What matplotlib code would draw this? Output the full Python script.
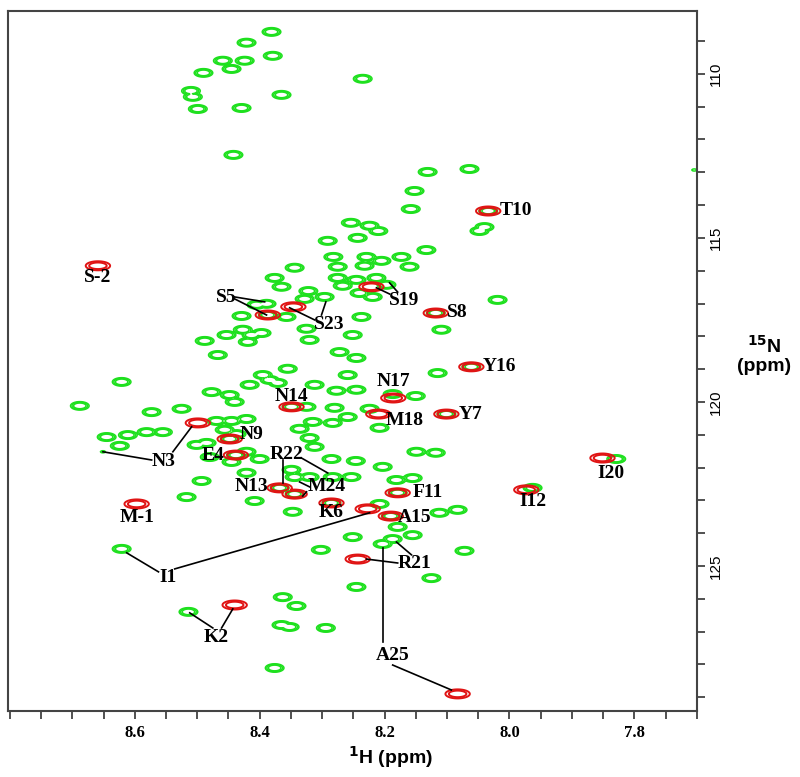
import numpy as np
import matplotlib
matplotlib.use("Agg")
import matplotlib.pyplot as plt
from matplotlib.ticker import FixedLocator, MultipleLocator

plt.rcParams.update({"mathtext.default": "bf", "font.family": "Liberation Sans"})

GREEN = "#1ee01e"
RED = "#e01414"

# reference spectrum peaks (1H ppm, 15N ppm)
green_h = [
    8.381, 8.421, 8.379, 8.459, 8.424, 8.445, 8.490, 8.235, 8.510, 8.507,
    8.365, 8.499, 8.429, 8.442, 8.131, 8.064, 8.152, 8.158, 8.034, 8.040,
    8.048, 8.254, 8.224, 8.210, 8.243, 8.291, 8.133, 8.282, 8.229, 8.205,
    8.173, 8.160, 8.275, 8.232, 8.344, 8.376, 8.275, 8.245, 8.213, 8.197,
    8.365, 8.267, 8.240, 8.219, 8.322, 8.296, 8.328, 8.389, 8.405, 8.387,
    8.429, 8.357, 8.237, 8.019, 8.118, 8.109, 8.325, 8.320, 8.453, 8.427,
    8.413, 8.397, 8.251, 8.488, 8.419, 8.245, 8.272, 8.467, 8.355, 8.395,
    8.384, 8.371, 8.416, 8.259, 8.312, 8.277, 8.245, 8.115, 8.061, 8.621,
    8.477, 8.448, 8.440, 8.187, 8.150, 8.349, 8.325, 8.280, 8.224, 8.101,
    8.688, 8.573, 8.525, 8.469, 8.445, 8.421, 8.259, 8.283, 8.315, 8.208,
    8.336, 8.645, 8.611, 8.581, 8.555, 8.624, 8.456, 8.437, 8.448, 8.320,
    8.312, 8.501, 8.485, 8.438, 8.421, 8.480, 8.445, 8.400, 8.285, 8.246,
    8.149, 8.118, 8.203, 8.493, 8.421, 8.349, 8.344, 8.320, 8.283, 8.253,
    8.181, 8.155, 8.368, 8.344, 8.179, 7.963, 7.829, 8.517, 8.408, 8.285,
    8.347, 8.208, 8.190, 8.179, 8.155, 8.112, 8.083, 8.251, 8.302, 8.203,
    8.187, 8.072, 8.125, 8.245, 8.363, 8.341, 8.514, 8.365, 8.352, 8.294,
    8.376, 8.621,
]
green_n = [
    108.72, 109.05, 109.45, 109.60, 109.60, 109.85, 109.97, 110.15, 110.52, 110.70,
    110.64, 111.07, 111.04, 112.47, 112.99, 112.90, 113.57, 114.12, 114.18, 114.67,
    114.79, 114.54, 114.63, 114.79, 115.00, 115.09, 115.37, 115.58, 115.58, 115.70,
    115.58, 115.88, 115.88, 115.85, 115.91, 116.22, 116.22, 116.28, 116.22, 116.43,
    116.49, 116.46, 116.68, 116.80, 116.62, 116.80, 116.86, 117.01, 117.04, 117.35,
    117.38, 117.41, 117.41, 116.89, 117.29, 117.80, 117.77, 118.11, 117.96, 117.80,
    117.96, 117.90, 117.96, 118.14, 118.17, 118.66, 118.48, 118.57, 118.99, 119.18,
    119.33, 119.42, 119.48, 119.18, 119.48, 119.66, 119.63, 119.12, 118.93, 119.39,
    119.70, 119.79, 120.00, 119.76, 119.82, 120.15, 120.15, 120.18, 120.21, 120.37,
    120.12, 120.31, 120.21, 120.58, 120.58, 120.52, 120.46, 120.64, 120.61, 120.79,
    120.82, 121.07, 121.01, 120.92, 120.92, 121.34, 120.85, 120.98, 121.13, 121.10,
    121.37, 121.31, 121.25, 121.62, 121.52, 121.68, 121.83, 121.74, 121.74, 121.80,
    121.52, 121.55, 121.98, 122.41, 122.16, 122.07, 122.29, 122.29, 122.29, 122.29,
    122.38, 122.32, 122.62, 122.81, 122.77, 122.62, 121.74, 122.90, 123.02, 123.08,
    123.35, 123.11, 123.48, 123.81, 124.06, 123.38, 123.29, 124.12, 124.51, 124.33,
    124.18, 124.54, 125.37, 125.64, 125.95, 126.22, 126.40, 126.80, 126.86, 126.89,
    128.11, 124.48,
]
faint_h = [8.651, 7.704]
faint_n = [121.52, 112.93]

red_names = ["S-2", "T10", "S5", "S23", "S19", "S8", "Y16", "N17", "M18", "Y7",
             "N14", "N3", "N9", "E4", "N13", "M24", "M-1", "K6", "I1", "A15",
             "F11", "I12", "I20", "R21", "K2", "A25"]
red_h = [8.659, 8.034, 8.387, 8.346, 8.221, 8.118, 8.061, 8.186, 8.210, 8.101,
         8.349, 8.499, 8.448, 8.438, 8.368, 8.344, 8.597, 8.285, 8.227, 8.190,
         8.179, 7.973, 7.851, 8.243, 8.440, 8.083]
red_n = [115.85, 114.18, 117.35, 117.10, 116.49, 117.29, 118.93, 119.88, 120.37, 120.37,
         120.15, 120.64, 121.13, 121.62, 122.62, 122.81, 123.11, 123.08, 123.26, 123.48,
         122.77, 122.68, 121.71, 124.79, 126.19, 128.90]

label_names = red_names + ["R22"]
label_h = [8.659, 7.989, 8.453, 8.288, 8.168, 8.083, 8.016, 8.186, 8.168, 8.062,
           8.349, 8.554, 8.413, 8.474, 8.413, 8.293, 8.597, 8.285, 8.547, 8.152,
           8.131, 7.963, 7.838, 8.152, 8.469, 8.187, 8.357]
label_n = [116.22, 114.18, 116.83, 117.65, 116.92, 117.26, 118.93, 119.39, 120.58, 120.39,
           119.82, 121.83, 121.00, 121.62, 122.59, 122.59, 123.51, 123.38, 125.34, 123.51,
           122.77, 123.05, 122.17, 124.91, 127.19, 127.74, 121.59]

# leader lines: start (h, n) -> end (h, n)
lead_h0 = [8.440, 8.440, 8.312, 8.301, 8.192, 8.179, 8.539, 8.573, 8.363, 8.333,
           8.320, 8.325, 8.536, 8.562, 8.461, 8.475, 8.179, 8.157, 8.202, 8.187]
lead_n0 = [116.80, 116.86, 117.50, 117.35, 116.71, 116.65, 121.52, 121.77, 121.77, 121.71,
           122.59, 122.74, 125.09, 125.18, 126.89, 126.89, 124.91, 124.66, 124.45, 128.02]
lead_h1 = [8.392, 8.389, 8.352, 8.294, 8.213, 8.192, 8.509, 8.651, 8.363, 8.291,
           8.336, 8.331, 8.224, 8.613, 8.443, 8.512, 8.229, 8.181, 8.202, 8.093]
lead_n1 = [116.95, 117.35, 117.13, 116.95, 116.52, 116.37, 120.76, 121.52, 122.47, 122.165,
           122.44, 122.87, 123.38, 124.60, 126.31, 126.43, 124.79, 124.27, 127.32, 128.78]

h_ticks = [8.6, 8.4, 8.2, 8.0, 7.8]
n_ticks = [110, 115, 120, 125]

H_LIM = (8.803, 7.70)
N_LIM = (129.42, 108.08)


def spectrum(hs, ns, amps, sx, sy, gx, gy):
    # each peak kept as its own lobe (no bridging between neighbours)
    z = np.zeros((gy.size, gx.size))
    for h, n, a in zip(hs, ns, amps):
        z = np.maximum(z, a * np.outer(np.exp(-0.5 * ((gy - n) / sy) ** 2),
                                       np.exp(-0.5 * ((gx - h) / sx) ** 2)))
    return z


fig = plt.figure(figsize=(8, 7.77), dpi=100)
ax = fig.add_axes([0.01, 0.085, 0.861, 0.901])

gx = np.linspace(7.69, 8.81, 1500)
gy = np.linspace(108.0, 129.5, 1000)

zg = spectrum(green_h, green_n, [1.0] * len(green_h), 0.011, 0.095, gx, gy)
zg = np.maximum(zg, spectrum(faint_h, faint_n, [0.5] * len(faint_h), 0.006, 0.05, gx, gy))
ax.contour(gx, gy, zg, levels=[0.4, 0.52, 0.66], colors=GREEN, linewidths=1.1, zorder=2)

zr = spectrum(red_h, red_n, [1.0] * len(red_h), 0.0135, 0.095, gx, gy)
ax.contour(gx, gy, zr, levels=[0.35, 0.58], colors=RED, linewidths=1.4, zorder=3)

for h0, n0, h1, n1 in zip(lead_h0, lead_n0, lead_h1, lead_n1):
    ax.plot([h0, h1], [n0, n1], color="black", lw=1.2, zorder=4)

for name, h, n in zip(label_names, label_h, label_n):
    ax.text(h, n, name, ha="center", va="center", fontsize=14, fontweight="bold",
            family="Liberation Serif", zorder=5)

ax.set_xlim(*H_LIM)
ax.set_ylim(*N_LIM)
ax.xaxis.set_major_locator(FixedLocator(h_ticks))
ax.xaxis.set_minor_locator(MultipleLocator(0.05))
ax.yaxis.set_major_locator(FixedLocator(n_ticks))
ax.yaxis.set_minor_locator(MultipleLocator(1))
ax.yaxis.tick_right()
ax.tick_params(which="both", direction="out", length=6, width=1.2, color="#333333")
ax.tick_params(axis="x", labelsize=12, pad=4)
ax.tick_params(axis="y", labelsize=11, pad=3, labelrotation=90)
for lbl in ax.get_xticklabels():
    lbl.set_family("Liberation Serif")
    lbl.set_fontweight("bold")
for lbl in ax.get_yticklabels():
    lbl.set_va("center")
for s in ax.spines.values():
    s.set_color("#444444")
    s.set_linewidth(1.5)

fig.text(0.955, 0.543, "$^{15}$N\n(ppm)", ha="center", va="center",
         fontsize=14, fontweight="bold", linespacing=1.1)
fig.text(0.4875, 0.026, "$^{1}$H (ppm)", ha="center", va="center",
         fontsize=14, fontweight="bold")

fig.savefig("out.png", dpi=100, facecolor="white")
